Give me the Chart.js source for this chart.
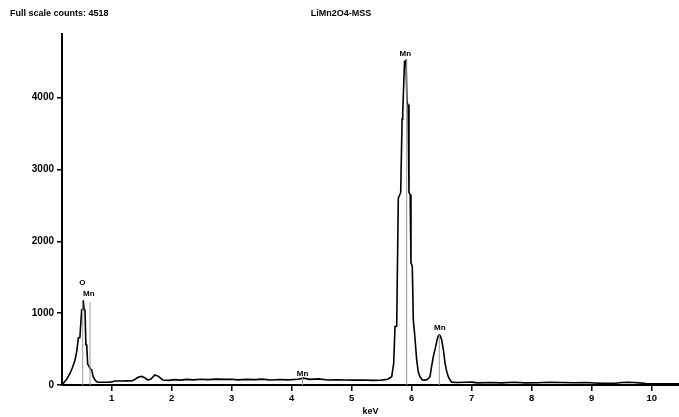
<!DOCTYPE html>
<html>
<head>
<meta charset="utf-8">
<script src="https://cdn.jsdelivr.net/npm/chart.js@4"></script>
<style>
html,body{margin:0;padding:0;background:#fff;}
#wrap{width:679px;height:417px;position:relative;}
</style>
</head>
<body>
<div id="wrap"><canvas id="c" width="679" height="417"></canvas></div>
<script>
// ---- data ----
const energyKeV = [0.172,0.19,0.25,0.305,0.35,0.39,0.42,0.444,0.47,0.50,0.515,0.527,0.54,0.555,0.57,0.584,0.60,0.61,0.64,0.667,0.69,0.722,0.75,0.777,0.85,0.95,1.0,1.05,1.15,1.25,1.35,1.45,1.5,1.55,1.6,1.65,1.72,1.78,1.85,1.95,2.05,2.15,2.25,2.35,2.5,2.6,2.75,2.9,3.0,3.1,3.25,3.4,3.5,3.65,3.8,3.95,4.1,4.2,4.3,4.45,4.6,4.75,4.9,5.05,5.2,5.35,5.5,5.6,5.667,5.7,5.722,5.75,5.777,5.817,5.84,5.85,5.88,5.905,5.922,5.94,5.955,5.975,5.988,6.01,6.027,6.05,6.083,6.11,6.14,6.18,6.22,6.26,6.305,6.33,6.36,6.39,6.417,6.44,6.46,6.48,6.5,6.53,6.555,6.58,6.61,6.64,6.667,6.75,6.9,7.0,7.1,7.3,7.5,7.7,7.9,8.1,8.3,8.5,8.7,8.9,9.05,9.2,9.4,9.5,9.6,9.7,9.8,9.9,10.1,10.3,10.455];
const counts    = [0,20,80,160,250,350,480,655,660,1045,1050,1180,1050,1045,560,557,290,280,230,210,120,70,45,40,38,40,42,55,55,58,60,110,120,100,70,80,140,120,70,65,75,68,78,72,80,75,82,78,80,72,78,75,82,70,76,72,80,95,78,85,70,72,70,68,70,65,68,80,115,300,812,820,2600,2680,3700,3763,4500,4518,3930,3900,2680,2650,1700,1650,906,700,350,180,110,70,68,75,115,250,395,500,603,680,697,680,627,480,307,200,115,70,40,35,38,40,30,35,30,38,30,32,38,35,32,35,28,22,25,35,38,35,30,20,18,15,15];

// element markers (KLM lines)
const markerNames    = ["O","Mn","Mn","Mn","Mn"];
const markerEnergy   = [0.517,0.639,4.18,5.917,6.46];
const markerTop      = [1150,1150,100,4530,700];
const markerLabelX   = [0.51,0.62,4.18,5.895,6.47];
const markerLabelY   = [1420,1268,160,4613,801];

const xTickValues = [1,2,3,4,5,6,7,8,9,10];
const yTickValues = [0,1000,2000,3000,4000];
const xRange = [0.172, 10.455];
const yRange = [0, 4885];

const chartTitle = "LiMn2O4-MSS";
const fullScaleText = "Full scale counts: 4518";
const xAxisTitle = "keV";

// ---- build chart ----
const spectrum = energyKeV.map((e,i)=>({x:e,y:counts[i]}));
const markerSets = markerEnergy.map((e,i)=>({
  data:[{x:e,y:0},{x:e,y:markerTop[i]}],
  borderColor:'#9a9a9a', borderWidth:1, pointRadius:0, tension:0
}));

const FONT = 'Liberation Sans, Arial, sans-serif';

const textPlugin = {
  id:'texts',
  afterDraw(chart){
    const ctx = chart.ctx, xs = chart.scales.x, ys = chart.scales.y, ca = chart.chartArea;
    ctx.save();
    ctx.fillStyle = '#000';
    ctx.font = 'bold 9px ' + FONT;
    ctx.textBaseline = 'middle';
    ctx.textAlign = 'left';
    ctx.fillText(fullScaleText, 10, 14);
    ctx.textAlign = 'center';
    ctx.fillText(chartTitle, 341, 14);
    ctx.fillText(xAxisTitle, (ca.left+ca.right)/2, 412);
    ctx.font = 'bold 8px ' + FONT;
    markerNames.forEach((n,i)=>{
      ctx.fillText(n, xs.getPixelForValue(markerLabelX[i]), ys.getPixelForValue(markerLabelY[i]));
    });
    ctx.restore();
  }
};

new Chart(document.getElementById('c'), {
  type:'line',
  data:{datasets:[...markerSets,{
    data:spectrum, borderColor:'#000', borderWidth:1.6, pointRadius:0, tension:0, fill:false
  }]},
  options:{
    responsive:false, animation:false, devicePixelRatio:1,
    layout:{padding:{top:34,right:0,left:0,bottom:0}},
    plugins:{legend:{display:false},tooltip:{enabled:false},title:{display:false}},
    scales:{
      x:{type:'linear', min:xRange[0], max:xRange[1],
        afterBuildTicks(a){a.ticks = xTickValues.map(v=>({value:v}));},
        afterFit(a){a.height = 32;},
        grid:{drawOnChartArea:false, drawTicks:true, tickLength:6, color:'#000', lineWidth:1.5},
        border:{display:true, color:'#000', width:2},
        ticks:{color:'#000', padding:2, maxRotation:0, autoSkip:false, callback:v=>String(v), font:{family:FONT, size:9.5, weight:'bold'}}
      },
      y:{type:'linear', min:yRange[0], max:yRange[1],
        afterBuildTicks(a){a.ticks = yTickValues.map(v=>({value:v}));},
        afterFit(a){a.width = 62;},
        grid:{drawOnChartArea:false, drawTicks:true, tickLength:5, color:'#000', lineWidth:1.5},
        border:{display:true, color:'#000', width:2},
        ticks:{color:'#000', padding:3, autoSkip:false, callback:v=>String(v), font:{family:FONT, size:10, weight:'bold'}}
      }
    }
  },
  plugins:[textPlugin]
});
</script>
</body>
</html>
